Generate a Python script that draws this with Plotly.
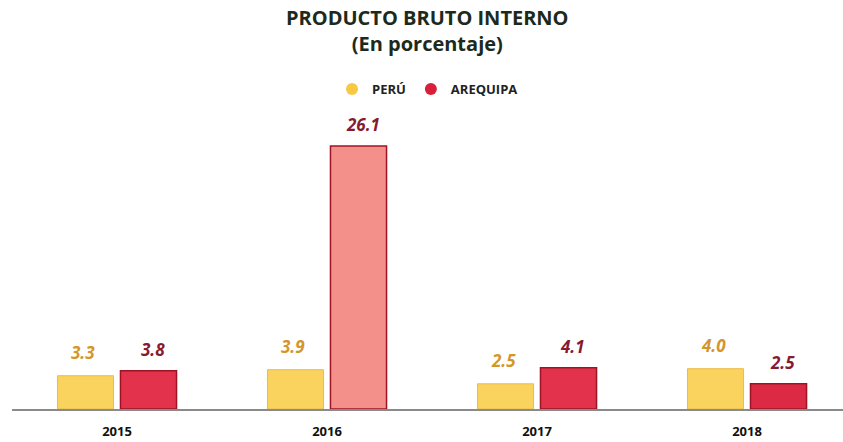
import plotly.graph_objects as go

years = ["2015", "2016", "2017", "2018"]
peru = [3.3, 3.9, 2.5, 4.0]
arequipa = [3.8, 26.1, 4.1, 2.5]
peru_labels = ["3.3", "3.9", "2.5", "4.0"]
arequipa_labels = ["3.8", "26.1", "4.1", "2.5"]

peru_color = "#f9d35e"
peru_line = "#edbb48"
areq_colors = ["#e2324c", "#f4908a", "#e2324c", "#dd2a44"]
areq_line = "#9e1425"

fig = go.Figure()
fig.add_trace(go.Bar(
    x=years, y=peru, name="PERÚ", showlegend=False,
    marker=dict(color=peru_color, line=dict(color=peru_line, width=1)),
    textposition="none",
))
fig.add_trace(go.Bar(
    x=years, y=arequipa, name="AREQUIPA", showlegend=False,
    marker=dict(color=areq_colors, line=dict(color=areq_line, width=1.5)),
    textposition="none",
))
# value labels
for i, y in enumerate(years):
    fig.add_annotation(x=i - 0.162, y=peru[i], xref="x", yref="y", text=f"<b><i>{peru_labels[i]}</i></b>",
                       showarrow=False, yanchor="bottom", yshift=10,
                       font=dict(family="Open Sans", size=17, color="#d4962a"))
    fig.add_annotation(x=i + 0.171, y=arequipa[i], xref="x", yref="y", text=f"<b><i>{arequipa_labels[i]}</i></b>",
                       showarrow=False, yanchor="bottom", yshift=8,
                       font=dict(family="Open Sans", size=17, color="#861a2e"))
# legend entries with circular markers
fig.add_trace(go.Scatter(x=[None], y=[None], mode="markers", name="PERÚ",
                         marker=dict(symbol="circle", size=13, color="#f7c842")))
fig.add_trace(go.Scatter(x=[None], y=[None], mode="markers", name="AREQUIPA",
                         marker=dict(symbol="circle", size=13, color="#d8203a")))

fig.add_annotation(xref="paper", yref="paper", x=0.5, y=1, yanchor="middle", xanchor="center",
                   yshift=120 - 30, text="<b>PRODUCTO BRUTO INTERNO</b><br><b>(En porcentaje)</b>",
                   showarrow=False, align="center",
                   font=dict(family="Open Sans", size=20, color="#1c2a1c"))

fig.update_layout(
    width=843, height=442,
    margin=dict(l=12, r=0, t=120, b=33),
    paper_bgcolor="white", plot_bgcolor="white",
    barmode="group", bargap=0.4, bargroupgap=0.11,
    legend=dict(orientation="h", x=0.5, xanchor="center", y=1 - 89 / 442, yanchor="middle",
                yref="container", font=dict(family="Open Sans", size=13, color="#222", weight="bold"),
                itemsizing="constant", bgcolor="rgba(0,0,0,0)"),
    xaxis=dict(range=[-0.5, 3.457], showline=True, linecolor="#8a8a8a", linewidth=2,
               showgrid=False, ticks="", ticklabelstandoff=9,
               tickfont=dict(family="Open Sans", size=13, color="#111", weight="bold")),
    yaxis=dict(range=[0, 28.67], visible=False, showgrid=False, zeroline=False),
    showlegend=True,
)

fig.write_html("out.html")
